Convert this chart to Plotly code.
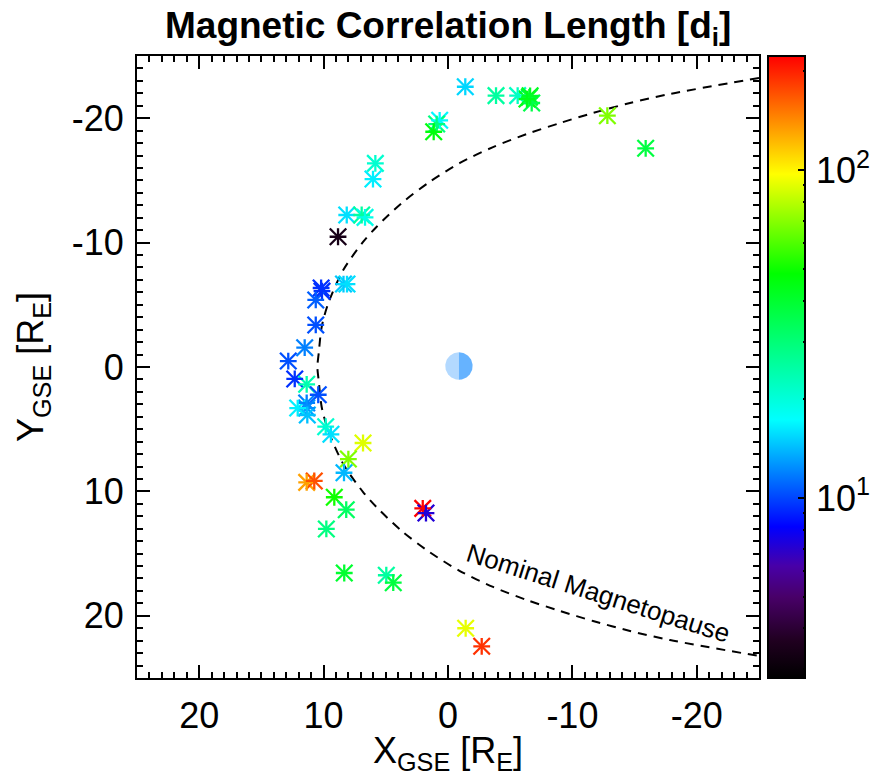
import numpy as np
import plotly.graph_objects as go

FONT = "Liberation Sans"

# Events: GSE position [R_E] and magnetic correlation length [d_i]
x_gse = [8.84, 8.40, 8.12, 10.20, 10.13, 10.63, 10.63, 11.52, 12.84, 12.32, 11.36, 10.43, 11.36, 11.36,
         12.08, 11.31, 9.83, 9.41, 6.83, 8.01, 8.36, 11.36, 10.75, 9.14, 8.18, 9.78, 8.34, 4.96, 4.40,
         2.03, 1.77, -1.42, -2.71, -1.39, -3.86, -5.60, -6.54, -6.73, -6.60, -6.35, -12.81, -15.89,
         0.67, 0.91, 1.15, 5.84, 6.03, 8.14, 6.94, 6.67]
y_gse = [-10.47, -6.67, -6.67, -6.35, -6.10, -5.39, -3.38, -1.55, -0.48, 0.96, 1.39, 2.23, 2.89, 3.30,
         3.30, 3.86, 4.80, 5.41, 6.11, 7.40, 8.50, 9.27, 9.16, 10.47, 11.47, 13.02, 16.56, 16.74, 17.34,
         11.36, 11.74, 21.00, 22.45, -22.53, -21.81, -21.81, -21.68, -21.22, -21.80, -21.54, -20.20, -17.58,
         -19.83, -19.53, -18.91, -16.37, -15.11, -12.22, -12.22, -12.03]
corr_len = [3.4, 14.7, 15.8, 9.4, 9.4, 10.8, 10.3, 11.9, 10.3, 9.4, 23.8, 10.3, 11.9, 12.5,
            16.5, 14.4, 20.9, 15.8, 89, 68.5, 14, 132, 172, 50.5, 32.8, 28.9, 40, 25.4, 37.4,
            223, 7.2, 91, 190, 15.4, 25.4, 22, 40, 36, 42, 44, 68.5, 37.4,
            17, 28.9, 46, 20.9, 16.5, 15.8, 25.4, 19]

mp_x = [10.50, 10.39, 10.15, 9.62, 8.42, 6.81, 5.73, 3.72, 1.45, -0.96, -3.62, -6.33, -9.00, -11.66, -14.63, -17.85, -25.0]
mp_y = [0.00, 1.13, 3.24, 5.14, 7.80, 10.07, 11.28, 13.18, 14.90, 16.40, 17.68, 18.73, 19.61, 20.42, 21.22, 21.95, 23.23]

major_ticks = [20, 10, 0, -10, -20]
major_labels = ["20", "10", "0", "-10", "-20"]
y_major_ticks = [-20, -10, 0, 10, 20]
y_major_labels = ["-20", "-10", "0", "10", "20"]

# Colour bar range (log10 of d_i)
log_min = 0.451
log_max = 2.348
cbar_ticks = [10, 100]
cbar_pad = '<span style="font-size:8px">\u00a0</span>'
cbar_labels = [cbar_pad + "10<sup>1</sup>", cbar_pad + "10<sup>2</sup>"]
cbar_minor = [3, 4, 5, 6, 7, 8, 9, 20, 30, 40, 50, 60, 70, 80, 90, 200]

colorscale = [
    [0.00, "#000000"], [0.06, "#200020"], [0.13, "#480068"], [0.18, "#4800a8"],
    [0.243, "#0000ff"], [0.415, "#00ffff"], [0.65, "#00ff00"],
    [0.81, "#ffff00"], [1.00, "#ff0000"],
]
clear_scale = [[0, "rgba(0,0,0,0)"], [1, "rgba(0,0,0,0)"]]

earth_x, earth_y, earth_r = -0.88, -0.08, 1.10

W, H = 875, 777
fig = go.Figure()

# magnetopause
line_x = mp_x[::-1] + mp_x[1:]
line_y = [-v for v in mp_y[::-1]] + mp_y[1:]
fig.add_trace(go.Scatter(x=line_x, y=line_y, mode="lines", showlegend=False, hoverinfo="skip",
                         line=dict(color="black", width=2, dash="9px,7px", shape="spline", smoothing=0.8)))

# Earth: sunward half light, tailward half darker
t = np.linspace(-np.pi / 2, np.pi / 2, 60)
fig.add_trace(go.Scatter(x=earth_x + earth_r * np.cos(t), y=earth_y + earth_r * np.sin(t), mode="lines",
                         fill="toself", fillcolor="#b3d9ff", line=dict(width=0), showlegend=False, hoverinfo="skip"))
fig.add_trace(go.Scatter(x=earth_x - earth_r * np.cos(t), y=earth_y + earth_r * np.sin(t), mode="lines",
                         fill="toself", fillcolor="#66b3ff", line=dict(width=0), showlegend=False, hoverinfo="skip"))

# events: the eight-spoked star is a thin x and a thin cross of the same span
log_len = np.log10(corr_len)
for symbol, size in (("x-thin-open", 16.5), ("cross-thin-open", 12)):
    fig.add_trace(go.Scatter(x=x_gse, y=y_gse, mode="markers", showlegend=False,
                             marker=dict(symbol=symbol, size=size, color=log_len, coloraxis="coloraxis",
                                         line=dict(width=2.3, color=log_len, coloraxis="coloraxis"))))

# a clear second colour bar carries the long ticks and labels over the first
fig.add_trace(go.Scatter(x=[None, None], y=[None, None], mode="markers", showlegend=False, hoverinfo="skip",
                         marker=dict(color=[log_min, log_max], coloraxis="coloraxis2")))

axis_common = dict(showgrid=False, zeroline=False, showline=True, linecolor="black", linewidth=2,
                   ticks="inside", ticklen=13, tickwidth=2, tickcolor="black", mirror="allticks",
                   tickmode="array", tickfont=dict(family=FONT, size=36, color="black"),
                   minor=dict(tickmode="linear", dtick=1, tick0=0, ticks="inside", ticklen=6, tickwidth=2, tickcolor="black"))

bar_common = dict(thickness=37, thicknessmode="pixels", len=622, lenmode="pixels", x=768 / W, xanchor="left",
                  y=1 - 678 / H, yanchor="bottom", xpad=0, ypad=0, outlinewidth=2, outlinecolor="black",
                  ticks="inside", tickcolor="black", tickwidth=2, tickmode="array", borderwidth=0)

px_to_xdom = lambda a: a / W
px_to_ydom = lambda a: 1 - a / H

fig.update_layout(
    width=W, height=H, margin=dict(l=0, r=0, t=0, b=0, autoexpand=False), paper_bgcolor="white", plot_bgcolor="white",
    font=dict(family=FONT, color="black"),
    coloraxis=dict(colorscale=colorscale, cmin=log_min, cmax=log_max,
                   colorbar=dict(ticklen=3, tickvals=np.log10(cbar_minor).tolist(),
                                 ticktext=[""] * len(cbar_minor), **bar_common)),
    coloraxis2=dict(colorscale=clear_scale, cmin=log_min, cmax=log_max,
                    colorbar=dict(ticklen=8, tickvals=np.log10(cbar_ticks).tolist(), ticktext=cbar_labels,
                                  tickfont=dict(family=FONT, size=36, color="black"), **bar_common)),
    xaxis=dict(domain=[px_to_xdom(137), px_to_xdom(759)], range=[25, -25], tickvals=major_ticks, ticktext=major_labels,
               ticklabelstandoff=5, **axis_common),
    yaxis=dict(domain=[px_to_ydom(678), px_to_ydom(56)], range=[25, -25], tickvals=y_major_ticks, ticktext=y_major_labels,
               ticklabelstandoff=4, **axis_common),
    annotations=[
        dict(text="<b>Magnetic Correlation Length [d<sub>i</sub>]</b>", xref="paper", yref="paper",
             x=448 / W, y=1 - 28 / H, xanchor="center", yanchor="middle", showarrow=False,
             font=dict(family=FONT, size=37, color="black")),
        dict(text="X<sub>GSE</sub> [R<sub>E</sub>]", xref="paper", yref="paper",
             x=448 / W, y=1 - 753 / H, xanchor="center", yanchor="middle", showarrow=False,
             font=dict(family=FONT, size=36, color="black")),
        dict(text="Y<sub>GSE</sub> [R<sub>E</sub>]", xref="paper", yref="paper",
             x=33 / W, y=1 - 367 / H, xanchor="center", yanchor="middle", showarrow=False, textangle=-90,
             font=dict(family=FONT, size=36, color="black")),
        dict(text="Nominal Magnetopause", x=-12.06, y=18.17, xref="x", yref="y", showarrow=False, textangle=17.5,
             font=dict(family=FONT, size=26, color="black")),
    ],
)

fig.write_html("out.html", post_script="document.body.style.margin='0';", config=dict(displayModeBar=False))
